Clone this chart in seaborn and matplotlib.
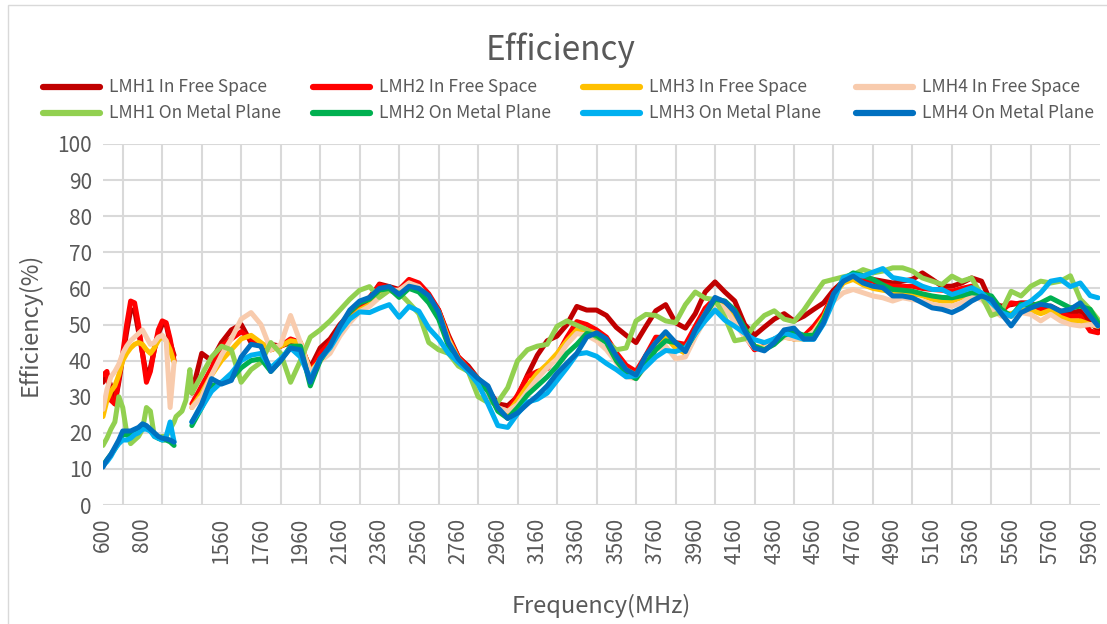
import pandas as pd
import matplotlib
matplotlib.use('Agg')
import matplotlib.pyplot as plt
import seaborn as sns
from matplotlib.lines import Line2D
from matplotlib.patches import Rectangle

# frequency categories (MHz); the source sheet jumps from 960 to 1330
low_freq = list(range(600, 961, 20))
gap_freq = [1330, 1360, 1380, 1400]
high_freq = list(range(1410, 5961, 50)) + [6000]

# category-axis labels, one every 20 categories (the 1360 slot is blank in the source)
tick_labels = ['600', '800', '', '1560', '1760', '1960', '2160', '2360', '2560', '2760',
               '2960', '3160', '3360', '3560', '3760', '3960', '4160', '4360', '4560',
               '4760', '4960', '5160', '5360', '5560', '5760', '5960']

series_names = ['LMH1 In Free Space', 'LMH2 In Free Space', 'LMH3 In Free Space', 'LMH4 In Free Space',
                'LMH1 On Metal Plane', 'LMH2 On Metal Plane', 'LMH3 On Metal Plane', 'LMH4 On Metal Plane']
series_colors = ['#C00000', '#FF0000', '#FFC000', '#F8CBAD',
                 '#92D050', '#00B050', '#00B0F0', '#0070C0']

# efficiency (%)
lmh1_free_low = [34, 36, 33, 28, 34, 41, 48, 54, 54, 48, 42, 36, 38, 43, 47.5, 50, 50, 45, 41.5]
lmh2_free_low = [36, 37, 29, 28, 35, 42, 50, 56.5, 56, 50, 42, 34, 37, 43, 48.5, 51, 50.5, 46, 40]
lmh3_free_low = [24.5, 29, 31.5, 33, 36, 40, 42, 43.5, 44.5, 45, 44.5, 43, 42, 43.5, 45.5, 46.8, 45.5, 43, 39.5]
lmh4_free_low = [26.5, 32, 35.5, 37, 39, 42, 44, 45.5, 46.5, 47.5, 48.5, 46.5, 44.5, 45, 46.5, 47, 45.5, 27, 39.5]
lmh1_metal_low = [16.5, 18.5, 21, 23, 30, 27, 20, 17, 18, 19, 21, 27, 26, 19, 18.5, 19, 19, 21, 23]
lmh2_metal_low = [11, 12.5, 14, 15.5, 17.5, 19.5, 19.5, 19.5, 20.5, 21, 22, 21.5, 20.5, 19.5, 18.5, 18, 18, 17.5, 16.5]
lmh3_metal_low = [11, 12, 13.5, 15.5, 17, 18, 18, 18.5, 19.5, 20, 21, 21, 20.5, 19, 18.5, 18, 19, 23, 17.5]
lmh4_metal_low = [10.5, 12.5, 14, 16, 18, 20.5, 20.5, 20.5, 21, 21.5, 22.5, 22, 21, 20, 19, 18.5, 18.3, 18, 17.4]

lmh1_metal_gap = [24.5, 26, 29, 37.5]

lmh1_free_high = [31, 42, 40, 45, 48.5, 50, 45, 44, 44.5, 44, 45, 44, 38, 43.5, 46, 50,
                  53, 55, 57, 61.2, 60.5, 59.7, 62.3, 61, 58, 54, 47, 41, 38.5, 35, 32, 28,
                  27.5, 30, 36, 41.5, 45.5, 46.8, 50, 55,
                  54, 54, 52.5, 49.2, 47, 45, 49.5, 53.8, 55.5, 50.5, 49, 53, 59, 61.8, 59,
                  56.5, 50, 47, 49.3, 51.5, 53, 51, 52.3, 54.2, 56, 59.5,
                  62, 63.4, 63, 62.5, 62, 61.5, 62, 62.5, 64.3, 62.5, 60.6, 60.6, 61.5, 62.9,
                  62, 56, 55.1, 55.5, 56, 56, 54.2, 55.1, 53.7, 53.3, 53.7, 50.5, 48.6]
lmh2_free_high = [28, 33, 38, 44, 46, 48, 46, 44, 43, 44, 46, 45, 37, 42, 45, 49,
                  52.5, 55, 57.5, 61, 60, 59.5, 62.5, 61.5, 58.5, 54, 46.5, 41, 38, 34.5, 31,
                  26.5, 26, 30.5, 35.5, 37, 37.8, 41.5, 46.5, 50.8,
                  50, 48.5, 46.5, 42.2, 38.7, 37, 41.5, 46.5, 46.3, 45, 44.5, 49.5, 54.5, 57.3,
                  55.5, 51.5, 47, 43, 44, 46, 46.8, 46, 46.8, 49.5, 53, 58.5,
                  62, 63.4, 62.5, 62, 61, 60.6, 60.5, 60.6, 60, 59.7, 59.5, 59.2, 60, 60.6,
                  58, 55.1, 53.7, 56, 55.6, 56, 54.2, 53.7, 52.8, 52.3, 52.3, 48.2, 47.7]
lmh3_free_high = [27, 31, 36, 40, 43, 46, 47, 45, 43, 44, 45.5, 45, 37, 40, 44, 48,
                  51.5, 54, 55.5, 59, 59.5, 58.5, 61.5, 60, 57.5, 53.5, 46, 40.5, 37.5, 35,
                  31.5, 27, 25.5, 29, 33, 36.5, 39, 42, 45.5, 48.5,
                  48.5, 47.5, 45.5, 41, 37.5, 36, 40.5, 45, 46.5, 43.5, 42, 48, 53, 57, 55,
                  52, 47.5, 44, 43.5, 45.5, 46.5, 46, 46, 48, 52, 58,
                  61.5, 62.5, 61, 60, 59.5, 59, 59, 58.5, 58, 57, 56.5, 56.5, 57.5, 58.5,
                  57.5, 54.5, 53, 53, 54, 54, 53, 54, 52, 51, 51, 50, 49.5]
lmh4_free_high = [27, 30, 36, 41.5, 46, 51.5, 53.3, 50, 43, 44.5, 52.5, 45, 36.7, 39.8, 42, 46.8,
                  50.5, 53.5, 55, 57.5, 59.5, 59.5, 61.5, 60.5, 57, 52.5, 45.5, 40, 37, 34.5,
                  31, 27, 26, 27.8, 31.5, 35, 38, 40.5, 44.5, 47.5,
                  47, 45.5, 43, 39.5, 35.5, 35, 38.5, 43, 44, 40.5, 41, 46.5, 51.5, 56, 54.5,
                  50.5, 46.5, 43.5, 43.5, 45, 46.5, 46, 46, 48, 51.5, 56.5,
                  58.8, 59.7, 58.8, 57.9, 57.4, 56.5, 57.4, 56.9, 56.5, 55.6, 55.1, 55.1, 56,
                  57.9, 56.9, 54.2, 52.3, 52.3, 53.3, 52.8, 51, 52.8, 51, 50, 49.6, 50, 49.6]
lmh1_metal_high = [31, 36, 41, 44, 43, 34, 37.5, 39.5, 45, 42, 34, 40, 46.5, 48.5, 51, 54,
                   57, 59.5, 60.5, 57.5, 59.5, 58.8, 56, 53, 45, 43, 42, 38.5, 37, 30, 28.4,
                   28.5, 32.5, 40, 43, 44, 44.5, 49.5, 51, 49.8,
                   48.6, 46.5, 45.3, 43, 43.5, 51, 52.8, 52.5, 51, 50.5, 55.5, 59, 57.3, 56.9,
                   52, 45.5, 46, 49.8, 52.5, 53.8, 51.5, 50.8, 54, 58, 61.8, 62.5,
                   63.2, 63.8, 65.2, 64.3, 64.8, 65.7, 65.7, 64.8, 62.9, 62, 61.1, 63.4, 62,
                   62.9, 58, 52.5, 53.5, 59.2, 57.9, 60.6, 62, 61.5, 62, 63.5, 57, 54.2, 51.4]
lmh2_metal_high = [22, 27, 33, 34, 35, 38, 40, 40.5, 37, 40, 44, 44, 33, 40, 44, 49,
                   53.5, 56, 57, 59.5, 60, 57.5, 60, 59, 56, 51.5, 44, 40, 37, 34.5, 31.5,
                   26, 24, 27, 30.5, 33, 35.5, 38.5, 42, 44.5,
                   47.5, 47, 45, 40, 36.5, 35, 39, 43, 45.5, 45, 43, 47.5, 52.5, 57, 56.5,
                   54, 49, 44, 43, 44.5, 47, 48, 47, 47, 51.5, 58,
                   62.5, 64.3, 63.5, 62.5, 61, 59.7, 59.5, 59.2, 58.5, 57.9, 57.5, 57.4, 58,
                   58.8, 58.5, 57.9, 54.2, 52.3, 55.6, 55.1, 56, 57.4, 56, 54.6, 55.1, 54.2, 50.5]
lmh3_metal_high = [23, 27, 31.5, 34, 36.5, 40, 41.5, 42, 38, 40.5, 43.5, 41, 35, 40.5, 43.5, 48,
                   51.5, 53.5, 53.3, 54.5, 55.5, 52, 55, 53.7, 49, 46, 42, 39.5, 37, 33.5, 28,
                   22, 21.5, 25.3, 28.5, 29.3, 31, 34.5, 38, 41.8,
                   42.2, 41.2, 39.2, 37.5, 35.5, 35.8, 38.3, 41, 42.8, 42.5, 43.5, 47.5, 51,
                   54, 51.2, 49.5, 47.6, 45.8, 45, 46, 47.7, 46.8, 45.9, 45.9, 50.2, 56.5,
                   63, 63.8, 63.4, 64.5, 65.5, 63, 62.5, 62, 60.6, 59.7, 59.7, 58.3, 59.2,
                   60.2, 58.8, 56, 53.3, 52.3, 55.1, 56.5, 58.8, 62, 62.5, 60.5, 61.5, 58, 57.4]
lmh4_metal_high = [23, 28, 35, 33.5, 34.5, 41, 44.5, 44, 37, 40, 43.5, 43, 34, 40.5, 44, 49.5,
                   54, 56.5, 57.5, 60, 60.5, 58.3, 60.6, 60, 58, 53.5, 45, 40.4, 37.6, 35, 33,
                   27, 24, 25.5, 28, 30.3, 33, 36.5, 39.3, 42,
                   46.5, 47.7, 46, 41.3, 37.5, 36, 41.5, 45, 48, 45, 42.5, 48.5, 53, 57.5,
                   56.3, 53.5, 48.3, 43.5, 42.7, 45, 48.5, 49, 46, 46, 50.5, 58.5,
                   62, 63.4, 61.5, 60.6, 60.2, 57.9, 57.9, 57.4, 56, 54.6, 54.2, 53.3, 54.6,
                   56.5, 57.9, 56.9, 53, 49.6, 53.3, 54.6, 55.6, 55.1, 53.7, 54.2, 56, 52.3, 49.6]

low_values = [lmh1_free_low, lmh2_free_low, lmh3_free_low, lmh4_free_low,
              lmh1_metal_low, lmh2_metal_low, lmh3_metal_low, lmh4_metal_low]
high_values = [lmh1_free_high, lmh2_free_high, lmh3_free_high, lmh4_free_high,
               lmh1_metal_high, lmh2_metal_high, lmh3_metal_high, lmh4_metal_high]

TEXT = '#595959'
GRID = '#D9D9D9'


def category_pos(freq):
    # Excel category axis: 600..960 are categories 0..36, 1330 is category 37
    if freq <= 960:
        return (freq - 600) / 10
    return 37 + (freq - 1330) / 10


def build_frame():
    rows = []
    for i, name in enumerate(series_names):
        for f, v in zip(low_freq, low_values[i]):
            rows.append((name, 'low', f, v))
        if name == 'LMH1 On Metal Plane':
            # this trace runs on through the gap
            for f, v in zip(gap_freq, lmh1_metal_gap):
                rows.append((name, 'low', f, v))
            for f, v in zip(high_freq, high_values[i]):
                rows.append((name, 'low', f, v))
        else:
            for f, v in zip(high_freq, high_values[i]):
                rows.append((name, 'high', f, v))
    df = pd.DataFrame(rows, columns=['series', 'band', 'freq', 'eff'])
    df['pos'] = df['freq'].apply(category_pos)
    return df


df = build_frame()

sns.set_style('white')
plt.rcParams['font.family'] = ['Noto Sans CJK SC', 'DejaVu Sans']
plt.rcParams['font.weight'] = 'light'

fig = plt.figure(figsize=(11.07, 6.24), dpi=100)
ax = fig.add_axes([103 / 1107, 1 - 505 / 624, 997 / 1107, 361 / 624])

for name, color in zip(series_names, series_colors):
    sub = df[df['series'] == name]
    sns.lineplot(data=sub, x='pos', y='eff', units='band', estimator=None, sort=False,
                 color=color, lw=3.6, ax=ax, legend=False)

ax.set_xlim(0, 505)
ax.set_ylim(0, 100)
ax.set_yticks(range(0, 101, 10))
ax.set_xticks(range(0, 501, 20))
ax.set_xticklabels(tick_labels, rotation=90)
ax.set_xticks(range(0, 501, 10), minor=True)
ax.tick_params(axis='both', which='both', length=0, colors=TEXT, labelsize=15)
ax.tick_params(axis='x', pad=9)
ax.tick_params(axis='y', pad=8)
ax.grid(False)
ax.xaxis.grid(True, which='minor', color=GRID, lw=1.5)
ax.yaxis.grid(True, which='major', color=GRID, lw=1.5)
ax.set_axisbelow(True)
for s in ax.spines.values():
    s.set_visible(False)

ax.set_xlabel('Frequency(MHz)', fontsize=17, color=TEXT)
ax.set_ylabel('Efficiency(%)', fontsize=17, color=TEXT)
ax.xaxis.label.set_va('center')
ax.xaxis.set_label_coords(0.5, (505 - 606) / 361)
ax.yaxis.label.set_va('center')
ax.yaxis.set_label_coords((30 - 103) / 997, 0.5)

fig.text(561 / 1107, 1 - 50 / 624, 'Efficiency', ha='center', va='center', fontsize=24, color=TEXT)

# legend: two rows of four, laid out like the Excel legend
col_x = [43, 313, 583, 856]
row_y = [87, 113]
for i, (name, color) in enumerate(zip(series_names, series_colors)):
    x0 = col_x[i % 4]
    y0 = 1 - row_y[i // 4] / 624
    fig.add_artist(Line2D([x0 / 1107, (x0 + 57) / 1107], [y0, y0], color=color, lw=4.5,
                          solid_capstyle='round', transform=fig.transFigure))
    fig.text((x0 + 66) / 1107, y0, name, ha='left', va='center', fontsize=12.5, color=TEXT)

fig.add_artist(Rectangle((8 / 1107, -0.1), 1.2, 1.1 - 5 / 624, transform=fig.transFigure,
                         fill=False, edgecolor=GRID, lw=1))

fig.savefig('out.png', dpi=100)
